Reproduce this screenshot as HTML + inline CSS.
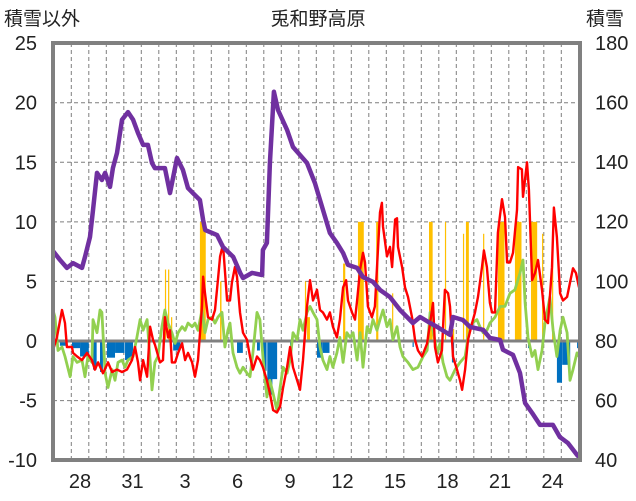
<!DOCTYPE html>
<html><head><meta charset="utf-8">
<style>
body{margin:0;background:#fff;}
svg{display:block;font-family:"Liberation Sans","Noto Sans CJK JP",sans-serif;}
</style></head>
<body>
<svg id="chart" width="636" height="501" viewBox="0 0 636 501" xmlns="http://www.w3.org/2000/svg">
<text x="318" y="25" text-anchor="middle" font-size="19" fill="#222">兎和野高原</text>
<text x="4" y="25" font-size="19" fill="#222">積雪以外</text>
<text x="586" y="25" font-size="19" fill="#222">積雪</text>
<g id="grid"></g>
<g id="ticks"></g>
<clipPath id="pc"><rect x="53" y="43" width="527" height="417"/></clipPath>
<g id="marks" clip-path="url(#pc)"></g>
<g id="frame"></g>
</svg>
<script>
const leftTicks=[25,20,15,10,5,0,-5,-10];
const rightTicks=[180,160,140,120,100,80,60,40];
const dayLabels=["28","31","3","6","9","12","15","18","21","24"];
const dayLabelT=[0.5,3.5,6.5,9.5,12.5,15.5,18.5,21.5,24.5,27.5];
const snowT=[-1.05,-0.65,-0.25,0.10,0.61,0.78,1.07,1.24,1.47,1.75,1.93,2.21,2.38,2.61,2.90,3.24,3.53,3.81,4.10,4.38,4.61,4.78,5.07,5.35,5.64,6.04,6.38,6.67,6.95,7.35,7.53,7.65,8.33,8.67,9.25,9.65,9.81,10.33,10.90,10.95,11.18,11.35,11.58,11.81,12.33,12.67,13.47,13.92,14.21,14.78,15.18,15.53,15.81,16.33,16.67,17.24,17.64,18.21,18.78,19.52,19.93,20.50,20.90,21.64,21.81,22.38,22.78,23.53,23.92,24.50,24.67,25.24,25.64,25.93,26.33,26.78,27.52,27.92,28.38,28.90,29.1];
const snowV=[110.2,107.2,104.5,106.1,104.5,108.2,114.9,123.9,136.4,134.0,136.4,131.7,138.0,143.1,154.2,156.8,154.2,149.8,145.8,145.8,139.7,138.0,138.0,138.0,129.6,141.4,137.4,131.3,129.6,127.3,120.6,117.2,115.5,111.5,108.2,102.8,101.1,102.8,102.1,110.5,112.9,139.7,163.6,157.5,150.8,145.1,139.7,133.0,127.3,116.2,112.9,109.5,105.5,104.5,101.4,99.8,97.1,94.7,90.4,86.0,88.0,86.0,84.7,82.0,88.0,87.0,84.7,83.7,81.0,80.3,77.0,75.3,69.2,59.1,55.8,51.8,51.8,47.7,45.7,41.7,40.5];
const tempT=[-1.05,-0.82,-0.53,-0.36,-0.25,0.04,0.10,0.33,0.61,0.90,1.18,1.35,1.53,1.81,2.10,2.33,2.61,2.90,3.18,3.47,3.64,3.81,3.93,4.10,4.33,4.50,4.67,4.78,5.07,5.24,5.35,5.53,5.64,5.75,5.93,6.10,6.33,6.50,6.67,6.90,7.07,7.24,7.47,7.53,7.64,7.81,8.04,8.21,8.38,8.50,8.67,8.90,9.07,9.18,9.35,9.47,9.64,9.81,10.04,10.21,10.38,10.61,10.78,10.95,11.18,11.35,11.53,11.75,11.93,12.10,12.33,12.50,12.67,12.90,13.07,13.24,13.47,13.64,13.81,14.04,14.21,14.38,14.61,14.78,14.95,15.18,15.35,15.53,15.70,15.81,16.04,16.21,16.33,16.50,16.67,16.78,16.95,17.18,17.35,17.53,17.64,17.75,17.81,18.04,18.21,18.33,18.50,18.61,18.67,18.90,19.07,19.24,19.47,19.64,19.81,20.04,20.33,20.50,20.67,20.78,20.95,21.18,21.35,21.53,21.64,21.81,22.04,22.21,22.33,22.50,22.67,22.90,23.07,23.24,23.47,23.58,23.75,23.92,24.04,24.21,24.38,24.61,24.78,24.90,25.07,25.24,25.47,25.53,25.75,25.81,26.04,26.15,26.33,26.50,26.67,26.90,27.07,27.24,27.47,27.58,27.75,27.93,28.10,28.33,28.50,28.67,28.84,29.01];
const tempV=[-0.8,0.3,2.6,1.5,-0.5,-0.5,-1.0,-1.3,-1.6,-1.0,-1.6,-2.4,-1.8,-2.7,-1.8,-2.6,-2.4,-2.6,-2.4,-1.6,-0.5,-1.8,-3.3,-1.6,-3.0,1.2,0.1,-0.3,-1.8,-1.6,2.0,0.3,0.9,-1.8,-1.8,-1.0,-0.2,-1.6,-1.0,-1.8,-3.0,-1.6,2.9,5.4,4.0,2.0,1.8,2.6,5.1,7.1,8.1,3.4,3.4,4.9,6.2,5.4,2.4,0.7,0.1,-1.3,-2.4,-1.3,-1.6,-2.2,-3.3,-4.4,-5.8,-6.0,-5.5,-3.9,-2.2,-0.5,-2.2,-3.3,-4.1,-1.6,2.9,5.1,3.4,4.3,2.6,2.4,1.8,2.4,1.2,0.3,1.8,4.5,5.1,3.4,2.4,1.8,3.4,6.0,7.4,6.6,2.9,2.0,2.9,7.9,10.8,11.6,9.6,7.1,7.9,6.2,10.2,10.3,7.9,6.2,4.5,3.7,2.0,0.1,-0.8,-1.3,-0.2,1.5,3.2,-0.5,-1.8,-0.8,4.3,4.0,2.9,-1.3,-2.4,-3.3,-4.1,-2.4,0.1,1.5,2.4,3.7,6.2,7.6,6.2,3.2,2.4,2.4,9.1,11.9,10.4,6.6,6.6,7.4,11.0,14.6,14.4,12.1,15.0,12.7,5.1,5.7,6.8,4.3,1.8,1.5,6.2,11.2,8.7,4.0,3.4,3.7,4.9,6.1,5.7,4.5];
const otherT=[-1.10,-0.93,-0.76,-0.53,-0.36,-0.07,0.10,0.33,0.61,0.78,0.95,1.18,1.24,1.47,1.64,1.75,1.93,2.10,2.33,2.50,2.67,2.90,3.07,3.24,3.53,3.75,3.93,4.10,4.33,4.50,4.61,4.78,4.95,5.18,5.35,5.53,5.75,5.93,6.10,6.33,6.50,6.67,6.90,7.07,7.24,7.47,7.64,7.81,8.04,8.21,8.38,8.61,8.78,8.95,9.07,9.24,9.47,9.64,9.81,10.04,10.21,10.38,10.61,10.78,10.95,11.18,11.35,11.53,11.75,11.93,12.10,12.33,12.50,12.67,12.90,13.07,13.24,13.47,13.64,13.81,14.04,14.21,14.38,14.61,14.78,14.95,15.18,15.35,15.53,15.75,15.93,16.10,16.33,16.50,16.67,16.90,17.07,17.24,17.47,17.64,17.81,18.04,18.21,18.38,18.61,18.78,18.95,19.24,19.52,19.81,20.10,20.33,20.50,20.67,20.90,21.07,21.24,21.47,21.64,21.93,22.21,22.50,22.67,22.90,23.18,23.35,23.53,23.75,23.92,24.21,24.50,24.78,25.07,25.35,25.64,25.81,25.93,26.10,26.33,26.50,26.67,26.90,27.07,27.35,27.53,27.75,27.93,28.10,28.33,28.50,28.67,28.90,29.01];
const otherV=[2.9,2.0,-0.8,-0.5,-1.3,-3.0,-1.3,-1.8,-1.6,-3.0,-1.3,-1.8,1.8,0.7,2.6,2.4,-2.7,-3.9,-2.4,-3.3,-1.8,-1.6,-2.2,-1.6,-1.3,0.3,1.8,0.9,1.8,-1.6,-4.1,-1.8,-1.3,1.2,2.6,1.5,0.7,-0.2,0.7,1.2,0.9,1.5,1.2,1.5,0.9,2.6,0.7,1.8,2.0,1.5,2.0,2.4,-0.5,0.9,1.5,-1.0,-2.2,-2.7,-2.2,-2.7,-3.0,-1.0,2.4,1.8,-1.3,-4.7,-3.3,-4.4,-5.8,-3.9,-2.2,-2.7,-1.6,0.7,0.1,1.8,0.9,2.4,2.9,2.4,1.8,-0.5,-1.6,-2.4,-1.3,-2.2,-1.0,0.3,-1.8,0.7,0.3,0.7,-1.6,0.7,-2.2,1.2,0.7,1.8,0.9,1.8,2.6,1.2,1.8,0.1,1.2,-0.5,-1.3,-1.8,-2.4,-2.2,-1.3,-0.8,2.4,0.9,-1.0,-0.2,-1.8,-3.0,-3.3,-2.4,-1.8,-1.3,0.3,1.5,1.8,1.2,0.7,0.9,1.5,2.0,2.9,2.9,4.0,4.3,5.7,6.8,3.2,0.3,-1.3,-0.8,-2.4,-0.8,1.5,3.7,0.9,-1.3,0.9,2.0,0.7,-3.3,-2.4,-1.0,-1.3];
const snowfallT=[5.35,5.53,5.70,7.35,8.50,13.35,13.47,15.53,16.38,17.42,18.33,20.44,21.35,21.81,22.38,22.55,23.53,24.38,25.35,26.27,26.33,26.90,27.47];
const snowfallHours=[1,1,1,8,2,1,4,3,8,3,1,5,1,1,1,4,1,9,9,1,7,1,1];
const snowfallV=[6,6,2,10,5,5,2,6.5,10,10,4,10,10,1,9,10,9,10,10,10,10,9,7.5];
const meltT=[-0.65,0.04,0.50,1.24,1.64,2.04,2.50,3.07,5.82,9.47,10.61,10.95,11.20,11.47,12.50,14.04,14.38,19.50,21.75,26.10,27.75,28.05,28.90];
const meltHours=[9,11,12,5,4,11,13,11,10,8,4,5,7,7,2,8,9,1,3,1,7,11,1];
const meltV=[-0.4,-0.6,-1.3,-2.4,-2.6,-1.4,-1.0,-1.6,-0.8,-1.0,-0.8,-2.5,-4.5,-3.2,-0.5,-1.4,-1.0,-0.5,-1.8,-0.6,-3.5,-2.0,-0.6];

const NS='http://www.w3.org/2000/svg';
const L=53,R=580,T=43,B=460;
function xS(t){return 71.3+t*17.5;}
function yL(v){return 341-v*11.914;}
function yR(v){return 43+(180-v)*2.9786;}
function mk(tag,attrs,parent){const e=document.createElementNS(NS,tag);for(const k in attrs)e.setAttribute(k,attrs[k]);parent.appendChild(e);return e;}
const grid=document.getElementById('grid'),ticks=document.getElementById('ticks'),marks=document.getElementById('marks'),frame=document.getElementById('frame');
for(let d=0;d<=28;d++){
  const g=mk('line',{x1:xS(d),x2:xS(d),y1:T,y2:B,stroke:'#7f7f7f','stroke-width':1,'stroke-dasharray':'4,3'},grid);
  
  
}
leftTicks.forEach(v=>{
  if(v!==25&&v!==-10&&v!==0){
    const g=mk('line',{x1:L,x2:R,y1:yL(v),y2:yL(v),stroke:'#7f7f7f','stroke-width':1,'stroke-dasharray':'4,3'},grid);
    
    
  }
  const tx=mk('text',{x:37,y:yL(v)+7,'text-anchor':'end','font-size':20,fill:'#222'},ticks);
  tx.textContent=v;
  
  
});
rightTicks.forEach(v=>{
  const tx=mk('text',{x:595,y:yR(v)+7,'font-size':20,fill:'#222'},ticks);
  tx.textContent=v;
  
  
});
dayLabels.forEach((s,i)=>{
  const tx=mk('text',{x:xS(dayLabelT[i]),y:488,'text-anchor':'middle','font-size':20,fill:'#222'},ticks);
  tx.textContent=s;
  
  
});
snowfallT.forEach((t,i)=>{
  const x0=xS(t),w=Math.max(1.2,snowfallHours[i]/24*17.5);
  const r=mk('rect',{x:x0,y:yL(snowfallV[i]),width:w,height:yL(0)-yL(snowfallV[i]),fill:'#FFC000'},marks);
  
  
});
meltT.forEach((t,i)=>{
  const x0=xS(t),w=Math.max(1.2,meltHours[i]/24*17.5);
  const r=mk('rect',{x:x0,y:yL(0),width:w,height:yL(meltV[i])-yL(0),fill:'#0070C0'},marks);
  
  
});
function poly(ts,vs,ys,color,w){
  const pts=ts.map((t,i)=>xS(t).toFixed(1)+','+ys(vs[i]).toFixed(1)).join(' ');
  return mk('polyline',{points:pts,fill:'none',stroke:color,'stroke-width':w,'stroke-linejoin':'round'},marks);
}
const z=mk('line',{x1:L,x2:R,y1:yL(0),y2:yL(0),stroke:'#808080','stroke-width':3},marks);


const pg=poly(otherT,otherV,yL,'#92D050',2.8);


const pr=poly(tempT,tempV,yL,'#FF0000',2.4);


const pp=poly(snowT,snowV,yR,'#7030A0',4.5);


const fr=mk('rect',{x:L,y:T,width:R-L,height:B-T,fill:'none',stroke:'#808080','stroke-width':4},frame);


</script>
</body></html>
